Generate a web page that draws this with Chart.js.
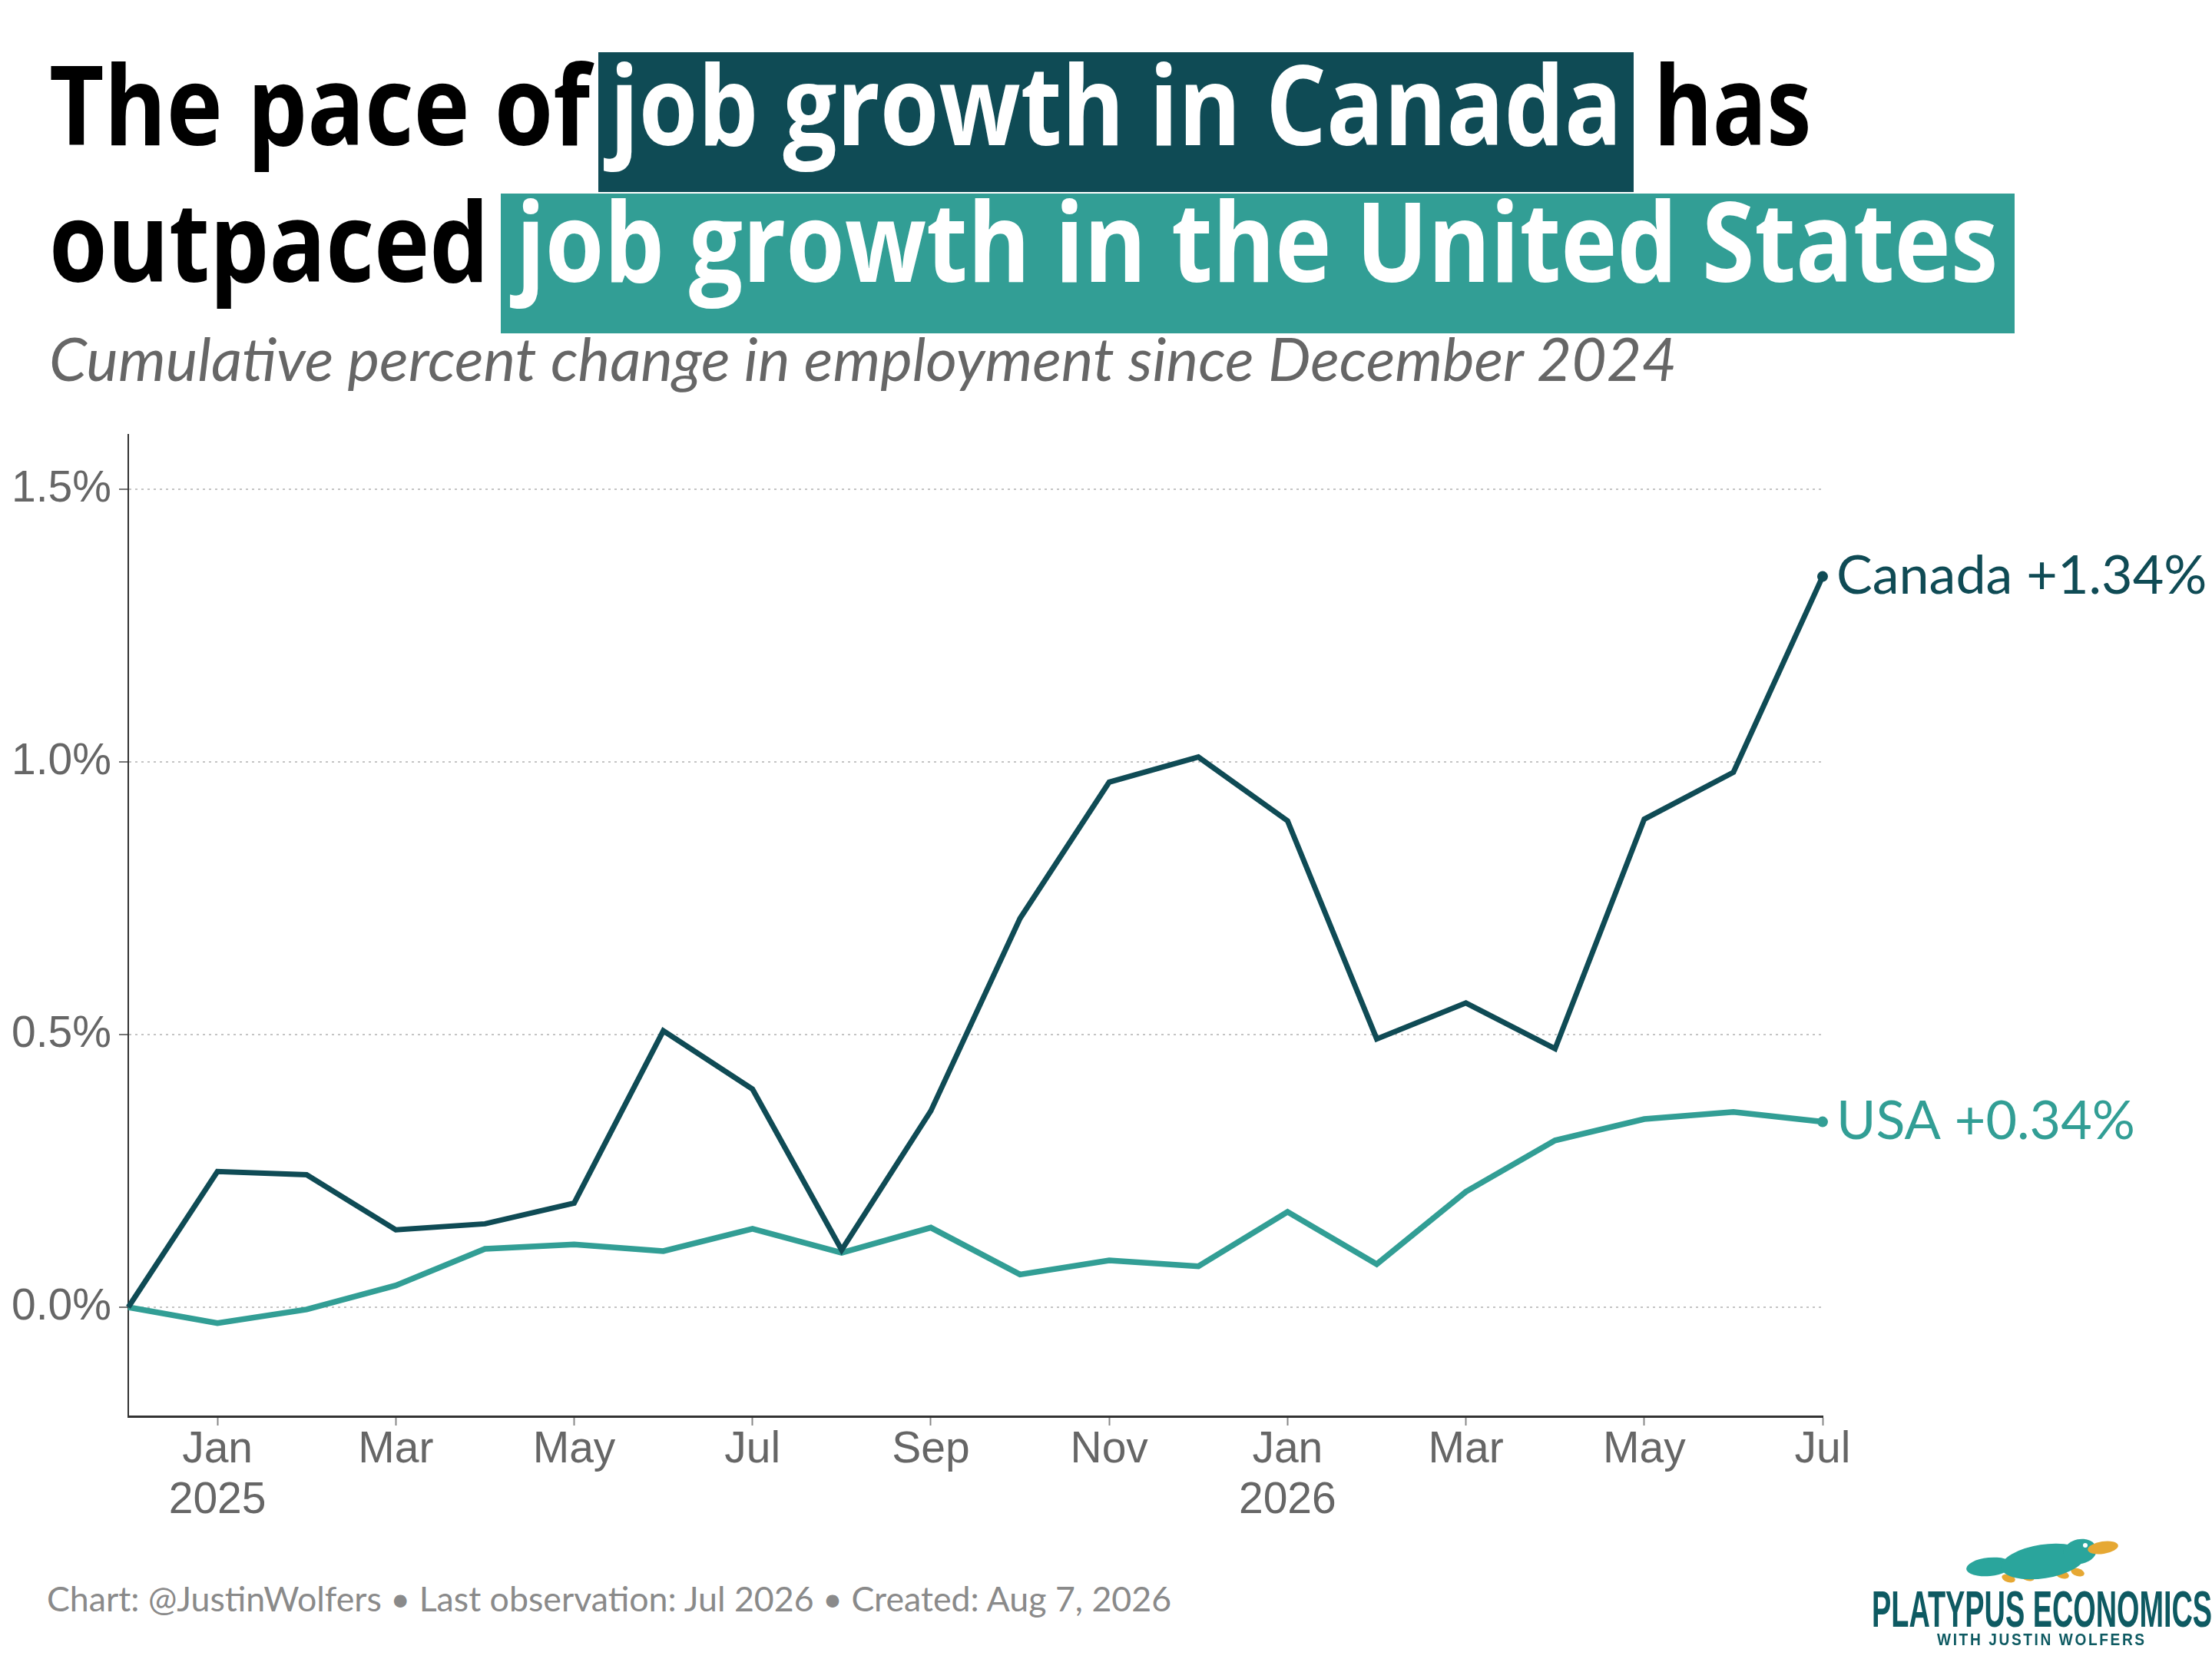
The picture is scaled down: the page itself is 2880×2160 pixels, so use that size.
<!DOCTYPE html>
<html>
<head>
<meta charset="utf-8">
<script src="https://cdn.jsdelivr.net/npm/chart.js@4.4.1/dist/chart.umd.min.js"></script>
<style>
  html, body { margin: 0; padding: 0; background: #fff; }
  #page { position: relative; width: 2880px; height: 2160px; overflow: hidden; background: #fff; }
  .title { position: absolute; font-family: 'Open Sans', sans-serif; font-weight: 700; font-size: 144px; line-height: 144px; color: #000; white-space: nowrap; transform-origin: left top; }
  .box { position: absolute; }
  .hl { color: #fff; }
  #subtitle { position: absolute; left: 64px; top: 427px; font-family: Lato, sans-serif; font-style: italic; font-size: 78.5px; line-height: 78.5px; color: #666; white-space: nowrap; }
  #footer { position: absolute; left: 61px; top: 2059px; font-family: Lato, sans-serif; font-size: 44.7px; line-height: 44.7px; color: #8a8a8a; white-space: nowrap; }
  #chart { position: absolute; left: 0; top: 500px; }
  .logo { position: absolute; font-family: 'Liberation Sans', sans-serif; font-weight: 700; color: #0e5a62; white-space: nowrap; transform-origin: left top; }
  #platypus { position: absolute; left: 2560px; top: 1995px; }
</style>
</head>
<body>
<div id="page">
  <div class="box" style="left:779px; top:68px; width:1348px; height:182px; background:#0f4b55;"></div>
  <div class="box" style="left:652px; top:252px; width:1971px; height:182px; background:#329e95;"></div>

  <div class="title" id="t1" style="left:64px; top:61px;">The pace of</div>
  <div class="title hl" id="t2" style="left:794px; top:61px;">job growth in Canada</div>
  <div class="title" id="t3" style="left:2153px; top:61px;">has</div>

  <div class="title" id="t4" style="left:64px; top:239px;">outpaced</div>
  <div class="title hl" id="t5" style="left:672px; top:239px;">job growth in the United States</div>

  <div id="subtitle">Cumulative percent change in employment since December 2024</div>

  <canvas id="chart" width="2880" height="1500"></canvas>

  <div id="footer">Chart: @JustinWolfers • Last observation: Jul 2026 • Created: Aug 7, 2026</div>

  <canvas id="platypus" width="200" height="75"></canvas>
  <div class="logo" id="logo1" style="left:2437px; top:2061px; font-size:67px; line-height:67px;">PLATYPUS ECONOMICS</div>
  <div class="logo" id="logo2" style="left:2522px; top:2124px; font-size:22px; line-height:22px; letter-spacing:3px;">WITH JUSTIN WOLFERS</div>
</div>

<script>
// months from Dec 2024 to Jul 2026
const categories = ["Dec 2024", "Jan 2025", "Feb 2025", "Mar 2025", "Apr 2025", "May 2025", "Jun 2025",
  "Jul 2025", "Aug 2025", "Sep 2025", "Oct 2025", "Nov 2025", "Dec 2025", "Jan 2026", "Feb 2026",
  "Mar 2026", "Apr 2026", "May 2026", "Jun 2026", "Jul 2026"];

// cumulative % change since Dec 2024
const canadaValues = [0, 0.249, 0.243, 0.142, 0.153, 0.191, 0.507, 0.400, 0.105, 0.360,
  0.713, 0.963, 1.009, 0.892, 0.492, 0.558, 0.474, 0.895, 0.981, 1.34];
const usaValues = [0, -0.029, -0.004, 0.040, 0.107, 0.115, 0.103, 0.144, 0.100, 0.146,
  0.060, 0.086, 0.075, 0.175, 0.079, 0.212, 0.306, 0.345, 0.358, 0.34];

// tick labels (blank = no tick shown)
const xTickLabels = ["", ["Jan", "2025"], "", "Mar", "", "May", "", "Jul", "", "Sep", "", "Nov", "",
  ["Jan", "2026"], "", "Mar", "", "May", "", "Jul"];
const yTickValues = [0, 0.5, 1.0, 1.5];

const canadaColor = "#0f4b55";
const usaColor = "#329e95";

// labels at the end of each line
const endLabels = {
  id: "endLabels",
  afterDatasetsDraw(chart) {
    const ctx = chart.ctx;
    chart.data.datasets.forEach(function (ds, i) {
      const meta = chart.getDatasetMeta(i);
      const pt = meta.data[meta.data.length - 1];
      const last = ds.data[ds.data.length - 1];
      ctx.save();
      ctx.font = "70px Lato";
      ctx.fillStyle = ds.borderColor;
      ctx.textBaseline = "middle";
      ctx.fillText(ds.label + " +" + last.toFixed(2) + "%", pt.x + 18, pt.y);
      ctx.restore();
    });
  }
};

function lastPointOnly(ctx) {
  return ctx.dataIndex === categories.length - 1 ? 7 : 0;
}

function drawPlatypus() {
  const c = document.getElementById("platypus").getContext("2d");
  // feet
  c.fillStyle = "#e6a833";
  [[55, 60], [80, 58], [125, 55], [145, 52]].forEach(function (f) {
    c.beginPath(); c.ellipse(f[0], f[1], 9, 5, 0.3, 0, Math.PI * 2); c.fill();
  });
  // tail + body + head
  c.fillStyle = "#2aa59c";
  c.beginPath(); c.ellipse(30, 45, 30, 12, -0.1, 0, Math.PI * 2); c.fill();
  c.beginPath(); c.ellipse(100, 38, 55, 22, -0.15, 0, Math.PI * 2); c.fill();
  c.beginPath(); c.ellipse(148, 25, 22, 16, -0.2, 0, Math.PI * 2); c.fill();
  // bill
  c.fillStyle = "#e6a833";
  c.beginPath(); c.ellipse(178, 20, 20, 8, -0.15, 0, Math.PI * 2); c.fill();
  // eye
  c.fillStyle = "#ffffff";
  c.beginPath(); c.arc(155, 17, 3, 0, Math.PI * 2); c.fill();
}

// squeeze a text block to a given width
function fitWidth(id, width) {
  const el = document.getElementById(id);
  el.style.transform = "scaleX(" + (width / el.offsetWidth) + ")";
}

function makeChart() {
  Chart.defaults.font.family = "'Liberation Sans', Arial, sans-serif";
  Chart.defaults.color = "#666";

  new Chart(document.getElementById("chart"), {
    type: "line",
    data: {
      labels: categories,
      datasets: [
        {
          label: "Canada",
          data: canadaValues,
          borderColor: canadaColor,
          backgroundColor: canadaColor,
          borderWidth: 7,
          pointRadius: lastPointOnly,
          pointBorderWidth: 0,
          tension: 0,
          clip: false,
        },
        {
          label: "USA",
          data: usaValues,
          borderColor: usaColor,
          backgroundColor: usaColor,
          borderWidth: 7.5,
          pointRadius: lastPointOnly,
          pointBorderWidth: 0,
          tension: 0,
          clip: false,
        },
      ],
    },
    options: {
      responsive: false,
      animation: false,
      devicePixelRatio: 1,
      layout: { padding: { left: 0, right: 507, top: 66, bottom: 6 } },
      plugins: { legend: { display: false }, tooltip: { enabled: false } },
      scales: {
        x: {
          offset: false,
          afterFit: function (scale) { scale.height = 150; },
          grid: {
            drawOnChartArea: false,
            drawTicks: true,
            tickLength: 12,
            tickWidth: 2,
            tickColor: function (ctx) { return xTickLabels[ctx.index] ? "#888" : "rgba(0,0,0,0)"; },
          },
          border: { display: true, color: "#333", width: 3 },
          ticks: {
            autoSkip: false,
            maxRotation: 0,
            padding: 0,
            color: "#666",
            font: { size: 57, lineHeight: 1.15 },
            callback: function (value, index) { return xTickLabels[index]; },
          },
        },
        y: {
          min: -0.2,
          max: 1.6,
          afterFit: function (scale) { scale.width = 167; },
          afterBuildTicks: function (scale) {
            scale.ticks = yTickValues.map(function (v) { return { value: v }; });
          },
          grid: {
            color: "#c4c4c4",
            lineWidth: 2,
            drawTicks: true,
            tickLength: 12,
            tickColor: "#777",
            tickWidth: 2,
            tickBorderDash: [],
          },
          border: { display: true, color: "#333", width: 2, dash: [3, 5] },
          ticks: {
            padding: 10,
            color: "#666",
            font: { size: 57 },
            callback: function (value) { return value.toFixed(1) + "%"; },
          },
        },
      },
    },
    plugins: [endLabels],
  });
}

drawPlatypus();
document.fonts.load("71px Lato").then(function () {
  fitWidth("t1", 704);
  fitWidth("t2", 1318);
  fitWidth("t3", 205);
  fitWidth("t4", 573);
  fitWidth("t5", 1929);
  fitWidth("logo1", 443);
  fitWidth("logo2", 273);
  makeChart();
});
</script>
</body>
</html>
